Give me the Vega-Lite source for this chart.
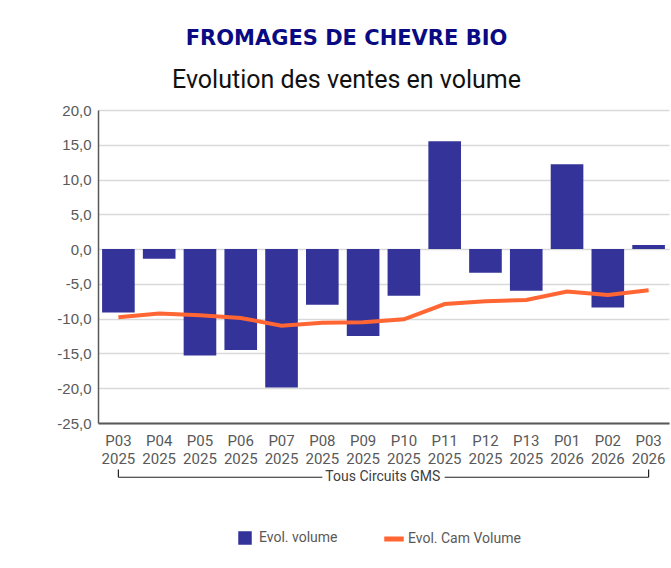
{
  "$schema": "https://vega.github.io/schema/vega-lite/v6.json",
  "autosize": {"type": "none"},
  "width": 571,
  "height": 313,
  "padding": {"left": 98, "top": 110, "right": 2, "bottom": 145},
  "background": "white",
  "title": {
    "text": "FROMAGES DE CHEVRE BIO",
    "subtitle": "Evolution des ventes en volume",
    "anchor": "middle",
    "dx": -37,
    "font": "DejaVu Sans",
    "fontSize": 21,
    "fontWeight": "bold",
    "color": "#0a0a82",
    "subtitleFont": "Roboto",
    "subtitleFontSize": 25,
    "subtitleColor": "#111111",
    "subtitlePadding": 19,
    "offset": 10
  },
  "config": {
    "view": {"stroke": null},
    "axis": {"labelColor": "#595959"}
  },
  "data": {
    "values": [
      {"period": "P03 2025", "volume": -9.1, "cam": -9.8},
      {"period": "P04 2025", "volume": -1.4, "cam": -9.25},
      {"period": "P05 2025", "volume": -15.3, "cam": -9.5},
      {"period": "P06 2025", "volume": -14.5, "cam": -9.9},
      {"period": "P07 2025", "volume": -19.9, "cam": -11.0},
      {"period": "P08 2025", "volume": -8.0, "cam": -10.6},
      {"period": "P09 2025", "volume": -12.5, "cam": -10.5},
      {"period": "P10 2025", "volume": -6.7, "cam": -10.1},
      {"period": "P11 2025", "volume": 15.5, "cam": -7.9},
      {"period": "P12 2025", "volume": -3.4, "cam": -7.5},
      {"period": "P13 2025", "volume": -6.0, "cam": -7.3},
      {"period": "P01 2026", "volume": 12.2, "cam": -6.1},
      {"period": "P02 2026", "volume": -8.4, "cam": -6.6},
      {"period": "P03 2026", "volume": 0.6, "cam": -5.9}
    ]
  },
  "encoding": {
    "x": {
      "field": "period",
      "type": "ordinal",
      "scale": {
        "domain": ["P03 2025","P04 2025","P05 2025","P06 2025","P07 2025","P08 2025","P09 2025","P10 2025","P11 2025","P12 2025","P13 2025","P01 2026","P02 2026","P03 2026"],
        "paddingInner": 0.2,
        "paddingOuter": 0.1
      },
      "axis": {
        "title": null,
        "labelAngle": 0,
        "labelExpr": "split(datum.label, ' ')",
        "labelFont": "Roboto",
        "labelFontSize": 15,
        "labelLineHeight": 18,
        "labelPadding": 10,
        "labelOverlap": false,
        "ticks": false,
        "domainColor": "#595959",
        "domainWidth": 2,
        "grid": false
      }
    }
  },
  "layer": [
    {
      "mark": {"type": "bar"},
      "encoding": {
        "y": {
          "field": "volume",
          "type": "quantitative",
          "scale": {"domain": [-25, 20], "nice": false, "zero": false},
          "axis": {
            "title": null,
            "values": [-25, -20, -15, -10, -5, 0, 5, 10, 15, 20],
            "tickCount": 10,
            "labelExpr": "(datum.value < 0 ? '-' : '') + replace(format(abs(datum.value), '.1f'), '.', ',')",
            "labelFont": "Liberation Sans",
            "labelFontSize": 15,
            "labelPadding": 7,
            "labelOverlap": false,
            "ticks": false,
            "gridColor": "#d9d9d9",
            "gridWidth": 1.5,
            "domainColor": "#595959",
            "domainWidth": 1.5
          }
        },
        "color": {
          "datum": "Evol. volume",
          "type": "nominal",
          "scale": {"domain": ["Evol. volume", "Evol. Cam Volume"], "range": ["#333399", "#FF6633"]},
          "legend": {
            "orient": "none",
            "legendX": 140,
            "legendY": 421,
            "direction": "horizontal",
            "title": null,
            "labelFont": "Roboto",
            "labelFontSize": 14,
            "labelColor": "#595959",
            "symbolSize": 144,
            "columnPadding": 44,
            "labelOffset": 7,
            "encode": {
              "symbols": {
                "update": {
                  "shape": {"signal": "datum.value === 'Evol. volume' ? 'square' : 'M-1.5,-0.3H1.5V0.3H-1.5Z'"},
                  "fill": {"signal": "datum.value === 'Evol. volume' ? '#333399' : '#FF6633'"},
                  "stroke": {"value": "transparent"},
                  "opacity": {"value": 1}
                }
              }
            }
          }
        }
      }
    },
    {
      "mark": {"type": "line", "strokeWidth": 4, "interpolate": "linear"},
      "encoding": {
        "y": {"field": "cam", "type": "quantitative"},
        "color": {"datum": "Evol. Cam Volume", "type": "nominal"}
      }
    },
    {
      "data": {"values": [{}]},
      "mark": {"type": "rule", "color": "#222222", "strokeWidth": 1.2},
      "encoding": {
        "x": {"datum": "P03 2025"},
        "x2": {"datum": "P08 2025"},
        "y": {"datum": -32.8},
        "y2": {"datum": -32.8}
      }
    },
    {
      "data": {"values": [{}]},
      "mark": {"type": "rule", "color": "#222222", "strokeWidth": 1.2},
      "encoding": {
        "x": {"datum": "P11 2025"},
        "x2": {"datum": "P03 2026"},
        "y": {"datum": -32.8},
        "y2": {"datum": -32.8}
      }
    },
    {
      "data": {"values": [{}]},
      "mark": {"type": "rule", "color": "#222222", "strokeWidth": 1.2},
      "encoding": {
        "x": {"datum": "P03 2025"},
        "y": {"datum": -31.7},
        "y2": {"datum": -32.8}
      }
    },
    {
      "data": {"values": [{}]},
      "mark": {"type": "rule", "color": "#222222", "strokeWidth": 1.2},
      "encoding": {
        "x": {"datum": "P03 2026"},
        "y": {"datum": -31.7},
        "y2": {"datum": -32.8}
      }
    },
    {
      "data": {"values": [{}]},
      "mark": {"type": "text", "align": "left", "baseline": "middle", "dx": 3, "font": "Roboto", "fontSize": 14, "color": "#404040"},
      "encoding": {
        "x": {"datum": "P08 2025"},
        "y": {"datum": -32.8},
        "text": {"value": "Tous Circuits GMS"}
      }
    }
  ]
}
